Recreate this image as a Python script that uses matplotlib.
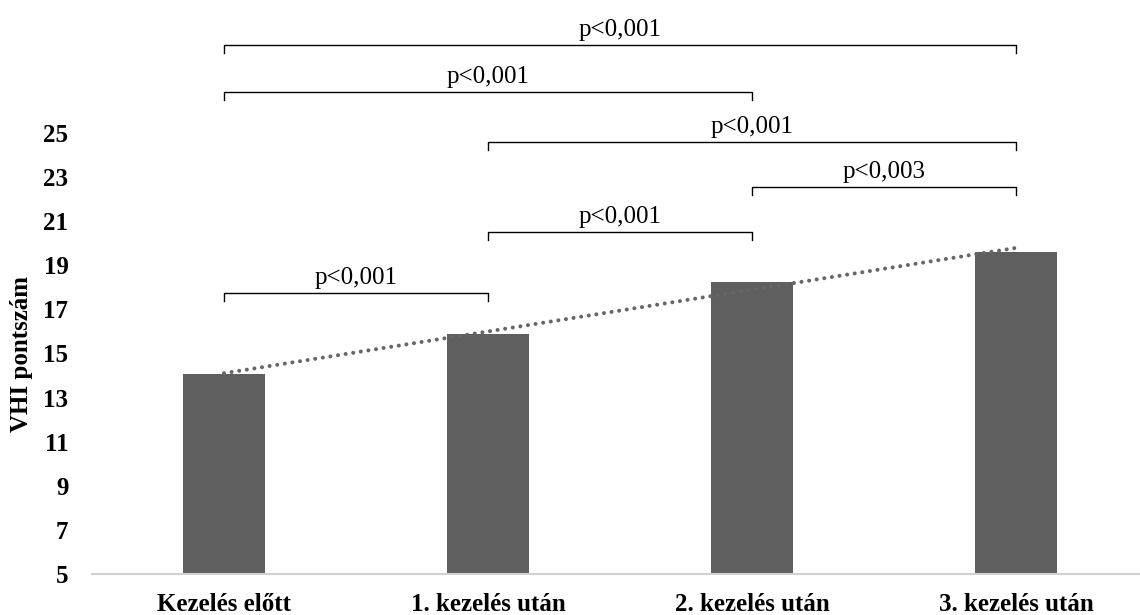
import numpy as np
import matplotlib
matplotlib.use("Agg")
import matplotlib.pyplot as plt

# Données
categories = ["Kezelés előtt", "1. kezelés után", "2. kezelés után", "3. kezelés után"]
vhi_values = [14.07, 15.88, 18.24, 19.6]
y_ticks = [5, 7, 9, 11, 13, 15, 17, 19, 21, 23, 25]

# Comparaisons : (début, fin, niveau y, texte)
comparisons = [
    (0, 1, 17.74, "p<0,001"),
    (1, 2, 20.51, "p<0,001"),
    (2, 3, 22.55, "p<0,003"),
    (1, 3, 24.59, "p<0,001"),
    (0, 2, 26.86, "p<0,001"),
    (0, 3, 28.99, "p<0,001"),
]

plt.rcParams["font.family"] = ["Liberation Serif", "DejaVu Serif"]

fig = plt.figure(figsize=(11.4, 6.15), dpi=100)
ax = fig.add_axes([92 / 1140, 1 - 574 / 615, (1140 - 92) / 1140, (574 - 133) / 615])

x = np.arange(len(categories))
ax.bar(x, [v - 5 for v in vhi_values], bottom=5, width=0.31, color="#5f5f5f", zorder=2)

# Courbe de tendance linéaire (comme dans Excel)
slope, intercept = np.polyfit(x, vhi_values, 1)
ax.plot([0, 3], [intercept, intercept + slope * 3], linestyle=(0, (0.01, 1.9)),
        color="#666666", linewidth=2.9, dash_capstyle="round", zorder=3)

ax.set_xlim(-0.5, -0.5 + (1140 - 92) / 264)
ax.set_ylim(5, 25)
ax.set_yticks(y_ticks)
ax.set_xticks(x)
ax.set_xticklabels(categories, fontsize=18, fontweight="bold")
ax.set_yticklabels([str(t) for t in y_ticks], fontsize=18, fontweight="bold")
ax.tick_params(axis="both", length=0)
ax.tick_params(axis="y", pad=17)
ax.tick_params(axis="x", pad=14)
for side in ["top", "right", "left"]:
    ax.spines[side].set_visible(False)
ax.spines["bottom"].set_color("#d0d0d0")
ax.spines["bottom"].set_linewidth(1.5)

ax.set_ylabel("VHI pontszám", fontsize=18, fontweight="bold")
ax.yaxis.set_label_coords(-0.056, 0.5)

drop = 0.36
for a, b, level, txt in comparisons:
    ax.plot([a, a, b, b], [level - drop, level, level, level - drop],
            color="black", linewidth=1, clip_on=False)
    ax.text((a + b) / 2, level + 0.2, txt, ha="center", va="bottom",
            fontsize=18, clip_on=False)

fig.savefig("out.png", dpi=100)
